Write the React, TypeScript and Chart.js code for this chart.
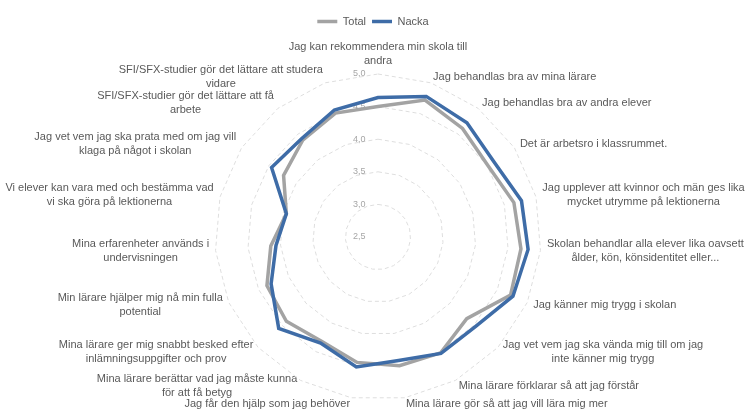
import React, { useEffect, useRef } from 'react';
import { Chart, registerables } from 'chart.js';

Chart.register(...registerables);

const CATEGORIES: (string | string[])[] = [
  ['Jag kan rekommendera min skola till', 'andra'],
  'Jag behandlas bra av mina lärare',
  'Jag behandlas bra av andra elever',
  'Det är arbetsro i klassrummet.',
  ['Jag upplever att kvinnor och män ges lika', 'mycket utrymme på lektionerna'],
  ['Skolan behandlar alla elever lika oavsett', 'ålder, kön, könsidentitet eller...'],
  'Jag känner mig trygg i skolan',
  ['Jag vet vem jag ska vända mig till om jag', 'inte känner mig trygg'],
  'Mina lärare förklarar så att jag förstår',
  'Mina lärare gör så att jag vill lära mig mer',
  'Jag får den hjälp som jag behöver',
  ['Mina lärare berättar vad jag måste kunna', 'för att få betyg'],
  ['Mina lärare ger mig snabbt besked efter', 'inlämningsuppgifter och prov'],
  ['Min lärare hjälper mig nå min fulla', 'potential'],
  ['Mina erfarenheter används i', 'undervisningen'],
  ['Vi elever kan vara med och bestämma vad', 'vi ska göra på lektionerna'],
  ['Jag vet vem jag ska prata med om jag vill', 'klaga på något i skolan'],
  ['SFI/SFX-studier gör det lättare att få', 'arbete'],
  ['SFI/SFX-studier gör det lättare att studera', 'vidare'],
];

const TOTAL = [4.5, 4.72, 4.61, 4.51, 4.65, 4.7, 4.72, 4.35, 4.52, 4.5, 4.45, 4.32, 4.41, 4.36, 4.15, 3.95, 4.23, 4.38, 4.51];
const NACKA = [4.64, 4.78, 4.72, 4.62, 4.77, 4.81, 4.76, 4.53, 4.53, 4.42, 4.52, 4.35, 4.57, 4.29, 4.07, 3.95, 4.45, 4.41, 4.56];

const SERIES_NAMES = ['Total', 'Nacka'];
const TICK_VALUES = [2.5, 3, 3.5, 4, 4.5, 5];

// layout constants (canvas pixels; the canvas covers the whole window)
const CENTER_X = 378;
const CENTER_Y = 237;
const RADIUS = 163;
const LABEL_GAP = 6.5;

const FONT_FAMILY = '"Liberation Sans", Arial, sans-serif';

const radarLayoutPlugin = {
  id: 'radarLayout',
  afterLayout(chart: any) {
    const s: any = chart.scales.r;
    if (!s || !s._pointLabelItems) return;
    s.xCenter = CENTER_X;
    s.yCenter = CENTER_Y;
    s.drawingArea = RADIUS;
    const n = s._pointLabelItems.length;
    s._pointLabelItems.forEach((it: any, i: number) => {
      const w = it.right - it.left;
      const h = it.bottom - it.top;
      const p = s.getPointPosition(i, RADIUS + LABEL_GAP);
      const deg = Math.round(((i * 360) / n) % 360);
      let left: number;
      if (deg === 0 || deg === 180) left = p.x - w / 2;
      else if (deg < 180) left = p.x;
      else left = p.x - w;
      const top = i === 0 ? p.y - h : p.y - h / 2;
      it.x = left + w / 2;
      it.y = top;
      it.textAlign = 'center';
      it.left = left;
      it.right = left + w;
      it.top = top;
      it.bottom = top + h;
    });
  },
};

export default function App() {
  const ref = useRef<HTMLCanvasElement | null>(null);

  useEffect(() => {
    if (!ref.current) return;
    const chart = new Chart(ref.current, {
      type: 'radar',
      data: {
        labels: CATEGORIES,
        datasets: [
          {
            label: SERIES_NAMES[0],
            data: TOTAL,
            borderColor: '#A3A3A3',
            backgroundColor: '#A3A3A3',
            borderWidth: 3.5,
            pointRadius: 0,
            pointHoverRadius: 0,
            fill: false,
            tension: 0,
            order: 1,
          },
          {
            label: SERIES_NAMES[1],
            data: NACKA,
            borderColor: '#3E6CA7',
            backgroundColor: '#3E6CA7',
            borderWidth: 3.5,
            pointRadius: 0,
            pointHoverRadius: 0,
            fill: false,
            tension: 0,
            order: 0,
          },
        ],
      },
      options: {
        animation: false,
        responsive: true,
        maintainAspectRatio: false,
        layout: { padding: { top: 10, left: 0, right: 0, bottom: 0 } },
        plugins: {
          legend: {
            position: 'top',
            labels: {
              usePointStyle: true,
              pointStyle: 'line',
              pointStyleWidth: 20,
              boxHeight: 11,
              padding: 6,
              color: '#595959',
              font: { family: FONT_FAMILY, size: 11 },
              sort: (a: any, b: any) => a.datasetIndex - b.datasetIndex,
            },
          },
          tooltip: { enabled: false },
        },
        scales: {
          r: {
            min: 2.5,
            max: 5,
            startAngle: 0,
            afterBuildTicks: (scale: any) => {
              scale.ticks = [{ value: TICK_VALUES[0] }, ...TICK_VALUES.map((v) => ({ value: v }))];
            },
            ticks: {
              stepSize: 0.5,
              showLabelBackdrop: false,
              backdropPadding: 0,
              color: '#A6A6A6',
              font: { family: FONT_FAMILY, size: 9 },
              callback: (v: any) => Number(v).toFixed(1).replace('.', ',') + '               ',
            },
            grid: {
              circular: false,
              color: '#DEDEDE',
              lineWidth: 1,
            },
            border: { dash: [4, 3] },
            angleLines: { display: false },
            pointLabels: {
              color: '#595959',
              padding: 2,
              font: { family: FONT_FAMILY, size: 11, lineHeight: 1.27 },
            },
          },
        },
      },
      plugins: [radarLayoutPlugin],
    } as any);
    return () => chart.destroy();
  }, []);

  return (
    <div style={{ position: 'fixed', left: 0, top: 0, width: '746px', height: '410px' }}>
      <canvas ref={ref} />
    </div>
  );
}
